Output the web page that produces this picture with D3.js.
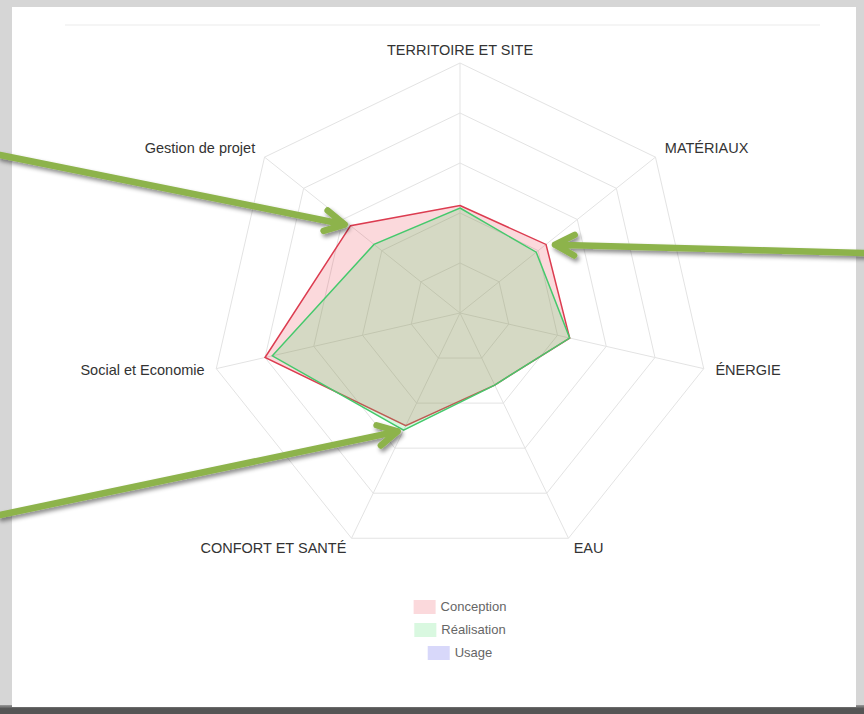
<!DOCTYPE html>
<html>
<head>
<meta charset="utf-8">
<script src="https://cdn.jsdelivr.net/npm/d3@7"></script>
<style>
  html, body { margin: 0; padding: 0; background: #d6d6d6; }
  svg { display: block; }
</style>
</head>
<body>
<script>
// axes du radar
var categories = ["TERRITOIRE ET SITE", "MATÉRIAUX", "ÉNERGIE", "EAU", "CONFORT ET SANTÉ", "Social et Economie", "Gestion de projet"];
var conception = [43, 44, 45, 32, 50, 80, 56];
var realisation = [42, 39, 45, 32, 52, 77, 44];
var usage = [];
var seriesNames = ["Conception", "Réalisation", "Usage"];
var gridLevels = [20, 40, 60, 80, 100];

var width = 864;
var height = 714;
var cx = 460;
var cy = 313;
var radius = 250;

var colors = {
    "Conception": { fill: "rgba(230, 30, 50, 0.17)", stroke: "#dc3c50" },
    "Réalisation": { fill: "rgba(66, 222, 100, 0.2)", stroke: "#45c96c" },
    "Usage": { fill: "rgba(60, 60, 230, 0.2)", stroke: "#7070e0" }
};

var svg = d3.select("body").append("svg").attr("width", width).attr("height", height);

// fond / carte
svg.append("rect").attr("width", width).attr("height", height).attr("fill", "#d6d6d6");
var defs = svg.append("defs");
var grad = defs.append("linearGradient").attr("id", "bottomShade").attr("x1", 0).attr("y1", 0).attr("x2", 0).attr("y2", 1);
grad.append("stop").attr("offset", "0%").attr("stop-color", "#9a9a9a");
grad.append("stop").attr("offset", "40%").attr("stop-color", "#555");
grad.append("stop").attr("offset", "100%").attr("stop-color", "#555");
svg.append("rect").attr("x", 0).attr("y", 705).attr("width", width).attr("height", 9).attr("fill", "url(#bottomShade)");
svg.append("rect").attr("x", 12).attr("y", 7).attr("width", 844).attr("height", 700).attr("fill", "#fff");
svg.append("rect").attr("x", 65).attr("y", 24).attr("width", 755).attr("height", 2).attr("fill", "#f5f5f5");

var rScale = d3.scaleLinear().domain([0, 100]).range([0, radius]);
var angle = d3.scaleLinear().domain([0, categories.length]).range([0, 2 * Math.PI]);

function point(i, v) {
    var a = angle(i);
    return [cx + rScale(v) * Math.sin(a), cy - rScale(v) * Math.cos(a)];
}

var chart = svg.append("g").attr("transform", "translate(" + cx + "," + cy + ")");

// grille
chart.append("g")
    .selectAll("path")
    .data(gridLevels)
    .enter()
    .append("path")
    .attr("d", function(lv) {
        return d3.lineRadial()
            .angle(function(d, i) { return angle(i); })
            .radius(function() { return rScale(lv); })
            .curve(d3.curveLinearClosed)(categories);
    })
    .attr("fill", "none")
    .attr("stroke", "#e3e3e3")
    .attr("stroke-width", 1);

chart.append("g")
    .selectAll("line")
    .data(categories)
    .enter()
    .append("line")
    .attr("x1", 0).attr("y1", 0)
    .attr("x2", function(d, i) { return rScale(100) * Math.sin(angle(i)); })
    .attr("y2", function(d, i) { return -rScale(100) * Math.cos(angle(i)); })
    .attr("stroke", "#e3e3e3")
    .attr("stroke-width", 1);

// séries
var series = [
    { name: "Conception", values: conception },
    { name: "Réalisation", values: realisation },
    { name: "Usage", values: usage }
];

var radarLine = d3.lineRadial()
    .angle(function(d, i) { return angle(i); })
    .radius(function(d) { return rScale(d); })
    .curve(d3.curveLinearClosed);

chart.append("g")
    .selectAll("path")
    .data(series.filter(function(s) { return s.values.length > 0; }))
    .enter()
    .append("path")
    .attr("d", function(s) { return radarLine(s.values); })
    .attr("fill", function(s) { return colors[s.name].fill; })
    .attr("stroke", function(s) { return colors[s.name].stroke; })
    .attr("stroke-width", 1.5)
    .attr("stroke-linejoin", "miter");

// libellés des axes
chart.append("g")
    .selectAll("text")
    .data(categories)
    .enter()
    .append("text")
    .attr("x", function(d, i) { return (radius + 12) * Math.sin(angle(i)); })
    .attr("y", function(d, i) { return -(radius + 12) * Math.cos(angle(i)); })
    .attr("text-anchor", function(d, i) {
        var s = Math.sin(angle(i));
        return Math.abs(s) < 0.05 ? "middle" : (s > 0 ? "start" : "end");
    })
    .attr("dominant-baseline", "middle")
    .style("font-family", "'Liberation Sans', Arial, sans-serif")
    .style("font-size", "14.5px")
    .attr("fill", "#333")
    .text(function(d) { return d; });

// légende
var legend = svg.append("g");
seriesNames.forEach(function(name, i) {
    var yc = 607 + i * 23;
    var row = legend.append("g");
    var box = row.append("rect")
        .attr("y", yc - 7)
        .attr("width", 22)
        .attr("height", 14)
        .attr("fill", colors[name].fill);
    var txt = row.append("text")
        .attr("y", yc + 1)
        .attr("dominant-baseline", "middle")
        .style("font-family", "'Liberation Sans', Arial, sans-serif")
        .style("font-size", "13px")
        .attr("fill", "#666")
        .text(name);
    var w = 22 + 5 + txt.node().getComputedTextLength();
    var x0 = cx - w / 2;
    box.attr("x", x0);
    txt.attr("x", x0 + 27);
});

// flèches d'annotation
defs.append("filter").attr("id", "arrowShadow").attr("x", "-10%").attr("y", "-50%").attr("width", "120%").attr("height", "200%")
    .append("feDropShadow").attr("dx", 2).attr("dy", 3).attr("stdDeviation", 2)
    .attr("flood-color", "#000").attr("flood-opacity", 0.45);

var arrows = [
    { from: [0, 155], series: conception, axis: 6, gap: 6 },
    { from: [864, 253], series: conception, axis: 1, gap: 9 },
    { from: [0, 515], series: realisation, axis: 4, gap: 6 }
];

var arrowG = svg.append("g").attr("filter", "url(#arrowShadow)");
arrows.forEach(function(a) {
    var target = point(a.axis, a.series[a.axis]);
    var dx = target[0] - a.from[0], dy = target[1] - a.from[1];
    var len = Math.sqrt(dx * dx + dy * dy);
    var ux = dx / len, uy = dy / len;
    var tip = [target[0] - ux * a.gap, target[1] - uy * a.gap];
    var back = Math.atan2(-uy, -ux);
    var armLen = 22, spread = 28 * Math.PI / 180;
    var arm1 = [tip[0] + armLen * Math.cos(back + spread), tip[1] + armLen * Math.sin(back + spread)];
    var arm2 = [tip[0] + armLen * Math.cos(back - spread), tip[1] + armLen * Math.sin(back - spread)];
    arrowG.append("path")
        .attr("d", "M" + a.from + "L" + tip + "M" + arm1 + "L" + tip + "L" + arm2)
        .attr("fill", "none")
        .attr("stroke", "#8db34c")
        .attr("stroke-width", 6.5)
        .attr("stroke-linecap", "round")
        .attr("stroke-linejoin", "round");
});
</script>
</body>
</html>
